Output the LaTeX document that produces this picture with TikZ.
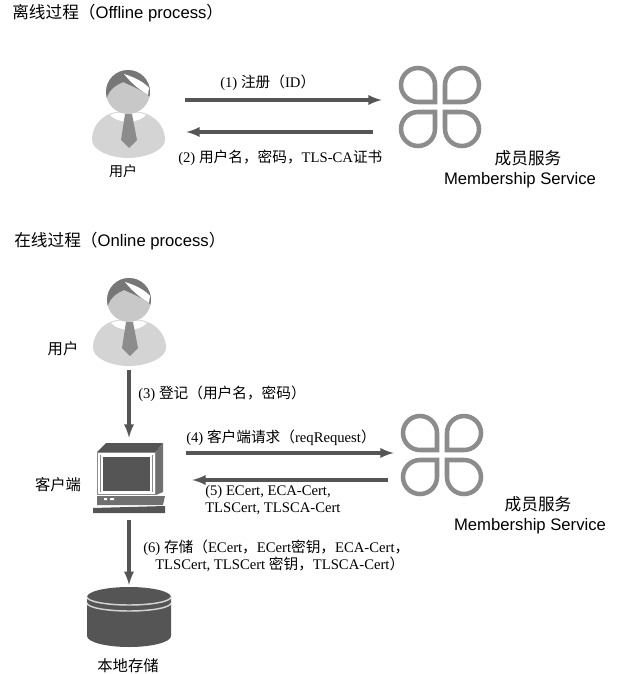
\documentclass[tikz,border=0pt]{standalone}
\usepackage{fontspec}
\setmainfont{Liberation Serif}
\setsansfont{Liberation Sans}
\newfontfamily\cjk{Noto Sans CJK SC}
\newcommand{\zh}[1]{{\cjk #1}}
\usetikzlibrary{arrows,calc,positioning}
\definecolor{dkgray}{RGB}{85,85,85}
\definecolor{midgray}{RGB}{140,140,140}
\definecolor{ltgray}{RGB}{212,212,212}
\definecolor{facegray}{RGB}{200,200,200}
\tikzset{
        arrow/.style = {draw=dkgray, -latex, line width=2.4pt},
        iconbox/.style = {inner sep=0pt, minimum width=#1},
        heading/.style = {anchor=west, inner sep=0.75pt, font=\sffamily\fontsize{12.5}{14}\selectfont},
        steplabel/.style = {anchor=west, inner sep=0.75pt, align=left, font=\fontsize{11}{12.5}\selectfont},
        caption/.style = {inner sep=0.75pt, align=center, font=\sffamily\fontsize{12.5}{15}\selectfont},
        nametext/.style = {inner sep=0.75pt, font=\fontsize{11.5}{14}\selectfont},
        person/.pic = {
            % body
            \fill [ltgray] (-36,48) .. controls (-36,32) and (-24,22) .. (-12,20) -- (12,20) .. controls (24,22) and (37,32) .. (37,48) .. controls (37,58) and (18,66) .. (0,66) .. controls (-18,66) and (-36,58) .. (-36,48) -- cycle;
            \fill [white] (-18,23) .. controls (-12,19) and (12,19) .. (18,23) .. controls (10,32) and (-10,32) .. (-18,23) -- cycle;
            % tie
            \fill [midgray] (-3,22) -- (4,22) -- (9,48) -- (1,56) -- (-7,48) -- cycle;
            % head
            \fill [facegray] (0,0) circle (22);
            \begin{scope}
                \clip (0,0) circle (22);
                \fill [dkgray!80] (-22,8) .. controls (-18,-6) and (-8,-8) .. (-5,-10) .. controls (4,-6) and (14,-2) .. (22,5) -- (22,-22) -- (-22,-22) -- cycle;
                \fill [white] (-4,-18) .. controls (6,-15) and (16,-10) .. (21,-4) -- (20,3) .. controls (12,-2) and (4,-8) .. (-4,-18) -- cycle;
            \end{scope}
        },
        clover/.pic = {
            \foreach \sx/\sy in {1/1,-1/1,1/-1,-1/-1} {
                \draw [midgray, line width=3.4pt, xscale=\sx, yscale=\sy] (-22,-5) arc [start angle=90, end angle=360, radius=17] -- (-5,-5) -- cycle;
            }
        },
        monitor/.pic = {
            % case
            \fill [dkgray] (9,0) -- (66,0) -- (59,9) -- (0,9) -- cycle;
            \fill [midgray!80!black] (66,0) -- (66,49) -- (59,52) -- (59,9) -- cycle;
            \fill [midgray] (0,9) rectangle (59,52);
            \draw [white, line width=0.9pt] (2,11) rectangle (57,50);
            \fill [dkgray] (5,14) rectangle (54,49);
            \draw [white, line width=0.9pt] (5,13) rectangle (54,49);
            % base
            \fill [midgray!80!black] (0,53) -- (68,53) -- (66,62) -- (0,62) -- cycle;
            \fill [white] (7,55) rectangle (10,57) (13,55) rectangle (17,57);
            \fill [dkgray] (-4,65) -- (68,63) -- (68,70) -- (-4,70) -- cycle;
        },
        disk/.pic = {
            \fill [dkgray] (-42,0) arc [start angle=180, end angle=360, x radius=42, y radius=10] -- (42,39) arc [start angle=0, end angle=180, x radius=42, y radius=11] -- cycle;
            \foreach \yy in {0,6} {
                \draw [ltgray, line width=1.1pt] (-42,\yy) arc [start angle=180, end angle=0, x radius=42, y radius=8];
            }
        },
    }
\begin{document}
\begin{tikzpicture}[x=0.75pt,y=0.75pt,yscale=-1,xscale=1]
\path [use as bounding box] (0,0) rectangle (640,674);

% Offline icons
\pic [transform shape] at (128,92) {person};
\pic [transform shape] at (440,107) {clover};
\node (useroff) [iconbox=85.5pt] at (128,116) {};
\node (serviceoff) [iconbox=87pt] at (440,116) {};

% Online icons
\pic [transform shape] at (129,300) {person};
\pic [transform shape] at (442,455) {clover};
\pic [transform shape] at (97,443) {monitor};
\pic [transform shape] at (129,597) {disk};
\node (useron) [iconbox=30pt, minimum height=105pt] at (129,300) {};
\node (client) [iconbox=87pt, minimum height=61.5pt] at (129,479) {};
\node (store) [iconbox=30pt, minimum height=3pt] at (129,585) {};
\node (serviceon) [iconbox=87pt] at (446,466) {};

% Arrows
\draw [arrow] ($(useroff.east)+(0,-16)$) -- ($(serviceoff.west)+(0,-16)$);
\draw [arrow] ($(serviceoff.west)+(-9,16)$) -- ($(useroff.east)+(1,16)$);
\draw [arrow] (useron.south) -- (client.north -| useron.south);
\draw [arrow] ($(client.east)+(-1,-26)$) -- ($(serviceon.west)+(6,-13)$);
\draw [arrow] ($(serviceon.west)+(0,14)$) -- ($(client.east)+(5,1)$);
\draw [arrow] (client.south) -- (store.center);

% Text Node
\node (titleoff) [heading] at (11,13) {\zh{离线过程（}Offline process\zh{）}};
\node (titleon) [heading] at (13,241) {\zh{在线过程（}Online process\zh{）}};
\node (lab1) [steplabel] at (219,83) {(1) \zh{注册（}ID\zh{）}};
\node (lab2) [steplabel] at (177,158) {(2) \zh{用户名，密码，}TLS-CA\zh{证书}};
\node (lab3) [steplabel] at (137,394) {(3) \zh{登记（用户名，密码）}};
\node (lab4) [steplabel] at (185,438) {(4) \zh{客户端请求（}reqRequest\zh{）}};
\node (lab5) [steplabel] at (204,500) {(5) ECert, ECA-Cert,\\TLSCert, TLSCA-Cert};
\node (lab6) [steplabel] at (142,556) {(6) \zh{存储（}ECert\zh{，}ECert\zh{密钥，}ECA-Cert\zh{，}\\\hspace{9pt}TLSCert, TLSCert \zh{密钥，}TLSCA-Cert\zh{）}};
\node (nameoff) [nametext, font=\fontsize{10.5}{12}\selectfont] at (123,171) {\zh{用户}};
\node (nameon) [nametext] at (63,349) {\zh{用户}};
\node (nameclient) [nametext] at (58,485) {\zh{客户端}};
\node (namestore) [nametext] at (128,666) {\zh{本地存储}};
\node (capoff) [caption] at (520,169) {\hspace*{12pt}\zh{成员服务}\\Membership Service};
\node (capon) [caption] at (530,515) {\hspace*{12pt}\zh{成员服务}\\Membership Service};

\end{tikzpicture}
\end{document}
